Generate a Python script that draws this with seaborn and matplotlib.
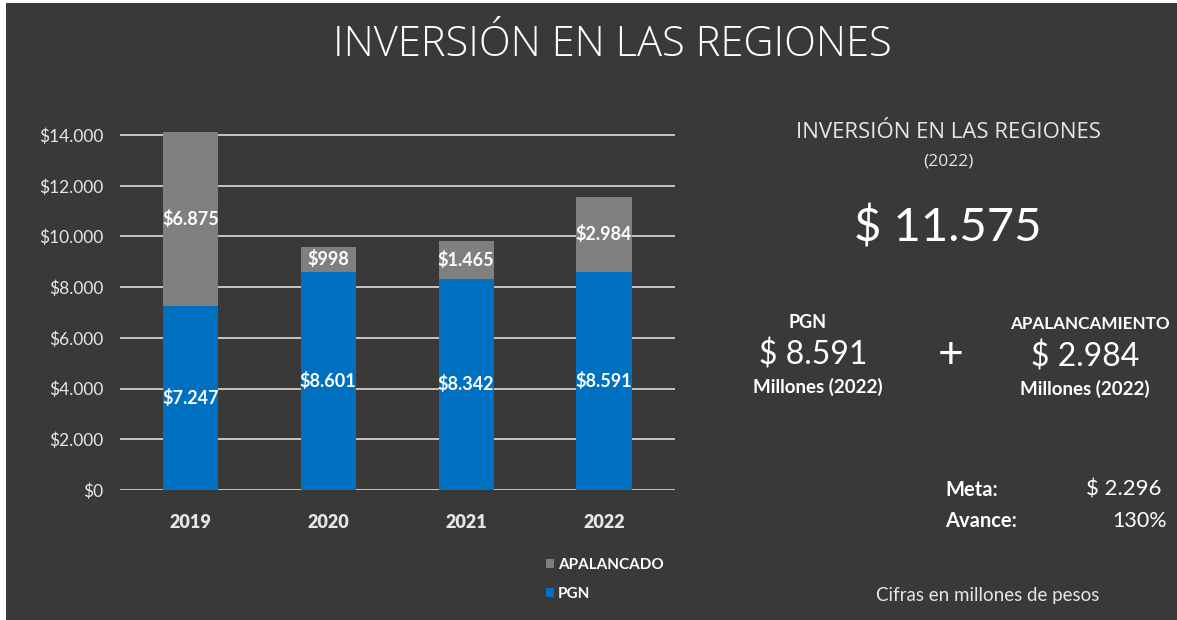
import matplotlib
matplotlib.use("Agg")
import matplotlib.pyplot as plt
from matplotlib.patches import Rectangle, Patch
import pandas as pd
import seaborn as sns

years = ['2019', '2020', '2021', '2022']
pgn = [7247, 8601, 8342, 8591]
apalancado = [6875, 998, 1465, 2984]
pgn_labels = ['$7.247', '$8.601', '$8.342', '$8.591']
apal_labels = ['$6.875', '$998', '$1.465', '$2.984']
yticks = [0, 2000, 4000, 6000, 8000, 10000, 12000, 14000]
ytick_labels = ['$0', '$2.000', '$4.000', '$6.000', '$8.000', '$10.000', '$12.000', '$14.000']

BG = '#3a3938'
BLUE = '#0070c0'
GRAY = '#7f7f7f'
TXT = '#e6e6e6'

sns.set_style('dark')
plt.rcParams['font.family'] = ['Lato', 'DejaVu Sans']

df = pd.DataFrame({'year': years, 'pgn': pgn, 'apal': apalancado})
df['total'] = df['pgn'] + df['apal']

fig = plt.figure(figsize=(11.77, 6.2), dpi=100)
fig.patch.set_facecolor('white')
fig.patches.append(Rectangle((6 / 1177, 0), 1, 1 - 3 / 620, transform=fig.transFigure,
                             facecolor=BG, edgecolor='none', zorder=-10))

ax = fig.add_axes([120 / 1177, 130 / 620, 555 / 1177, 360 / 620])
ax.set_facecolor('none')

# stacked: total in gray, PGN in blue over it
sns.barplot(data=df, x='year', y='total', color=GRAY, width=0.4, saturation=1, ax=ax,
            zorder=3, linewidth=0, edgecolor='none')
sns.barplot(data=df, x='year', y='pgn', color=BLUE, width=0.4, saturation=1, ax=ax,
            zorder=4, linewidth=0, edgecolor='none')

apal_cont, pgn_cont = ax.containers[0], ax.containers[1]
# gray segment labels centered on the gray part
for rect, val, lab in zip(apal_cont, apalancado, apal_labels):
    x = rect.get_x() + rect.get_width() / 2
    y = rect.get_height() - val / 2
    ax.text(x, y, lab, ha='center', va='center', color='white', fontsize=13,
            fontweight='bold', zorder=6)
ax.bar_label(pgn_cont, labels=pgn_labels, label_type='center', color='white',
             fontsize=13, fontweight='bold', zorder=6)

ax.set_xlim(-0.51, 3.515)
ax.set_ylim(0, 14200)
ax.set_yticks(yticks)
ax.set_yticklabels(ytick_labels, color=TXT, fontsize=12.5)
ax.set_xticks(range(len(years)))
ax.set_xticklabels(years, color=TXT, fontsize=13, fontweight='heavy')
ax.tick_params(axis='x', length=0, pad=17)
ax.tick_params(axis='y', length=0, pad=12)
ax.set_xlabel('')
ax.set_ylabel('')
ax.grid(axis='y', color='#d0d0d0', linewidth=1.3, zorder=0)
ax.grid(axis='x', visible=False)
for s in ax.spines.values():
    s.set_visible(False)

handles = [Patch(facecolor=GRAY, edgecolor='none', label='APALANCADO'),
           Patch(facecolor=BLUE, edgecolor='none', label='PGN')]
leg = fig.legend(handles=handles, loc='upper left', bbox_to_anchor=(532 / 1177, 1 - 544 / 620),
                 frameon=False, handlelength=0.55, handleheight=0.55, handletextpad=0.25,
                 labelspacing=1.0, prop={'weight': 'bold', 'size': 11})
for t in leg.get_texts():
    t.set_color('white')

def fy(py):
    return 1 - py / 620

def fx(px):
    return px / 1177

fig.text(fx(612), fy(45), 'INVERSIÓN EN LAS REGIONES', ha='center', va='center',
         color='white', fontsize=30, family=['Open Sans', 'DejaVu Sans'], fontweight='light')

fig.text(fx(948), fy(132), 'INVERSIÓN EN LAS REGIONES', ha='center', va='center',
         color=TXT, fontsize=16, family=['Open Sans', 'DejaVu Sans'])
fig.text(fx(948), fy(161), '(2022)', ha='center', va='center', color=TXT, fontsize=12.5,
         family=['Open Sans', 'DejaVu Sans'])
fig.text(fx(948), fy(228), '$ 11.575', ha='center', va='center', color='white', fontsize=34)

fig.text(fx(808), fy(322), 'PGN', ha='center', va='center', color='white', fontsize=13,
         fontweight='bold')
fig.text(fx(813), fy(355), '$ 8.591', ha='center', va='center', color='white', fontsize=23)
fig.text(fx(818), fy(387), 'Millones (2022)', ha='center', va='center', color='white',
         fontsize=13.5, fontweight='bold')
fig.text(fx(951), fy(356), '+', ha='center', va='center', color='white', fontsize=32)
fig.text(fx(1090), fy(324), 'APALANCAMIENTO', ha='center', va='center', color='white',
         fontsize=12.3, fontweight='bold')
fig.text(fx(1085), fy(357), '$ 2.984', ha='center', va='center', color='white', fontsize=23)
fig.text(fx(1085), fy(389), 'Millones (2022)', ha='center', va='center', color='white',
         fontsize=13.5, fontweight='bold')

fig.text(fx(945), fy(490), 'Meta:', ha='left', va='center', color='white', fontsize=14.5,
         fontweight='bold')
fig.text(fx(1162), fy(490), '$ 2.296', ha='right', va='center', color='white', fontsize=16)
fig.text(fx(945), fy(521), 'Avance:', ha='left', va='center', color='white', fontsize=14.5,
         fontweight='bold')
fig.text(fx(1167), fy(521), '130%', ha='right', va='center', color='white', fontsize=15.5)
fig.text(fx(988), fy(596), 'Cifras en millones de pesos', ha='center', va='center',
         color=TXT, fontsize=13.5)

fig.savefig('out.png', dpi=100, facecolor=fig.get_facecolor())
